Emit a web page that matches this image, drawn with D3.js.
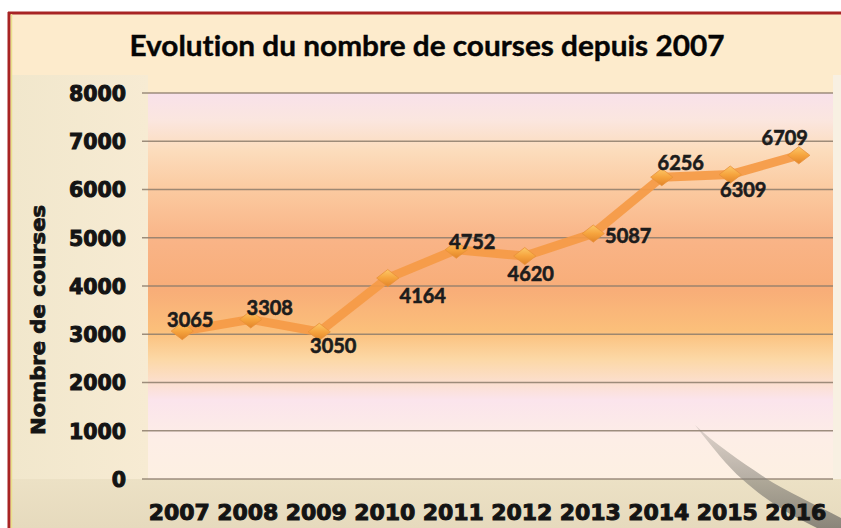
<!DOCTYPE html>
<html>
<head>
<meta charset="utf-8">
<script src="https://cdn.jsdelivr.net/npm/d3@7"></script>
<style>
  html, body { margin: 0; padding: 0; background: #fff; }
  svg { display: block; }
  text { font-variant-ligatures: none; }
</style>
</head>
<body>
<div id="chart"></div>
<script>
const years = ["2007", "2008", "2009", "2010", "2011", "2012", "2013", "2014", "2015", "2016"];
const courses = [3065, 3308, 3050, 4164, 4752, 4620, 5087, 6256, 6309, 6709];
const yTicks = [0, 1000, 2000, 3000, 4000, 5000, 6000, 7000, 8000];
const titleText = "Evolution du nombre de courses depuis 2007";
const yAxisTitle = "Nombre de courses";

const width = 841, height = 528;
const plot = { left: 148, right: 833, top: 93, bottom: 479 };

// where each value label sits relative to its point
const labelOffsets = [[8, -4], [19, -4], [14, 21], [35, 25], [16, -1], [6, 25], [35, 9], [19, -7], [13, 22], [-14, -10]];

const svg = d3.select("#chart").append("svg")
    .attr("width", width)
    .attr("height", height);

const defs = svg.append("defs");

function vGradient(id, stops) {
    const g = defs.append("linearGradient").attr("id", id)
        .attr("x1", 0).attr("y1", 0).attr("x2", 0).attr("y2", 1);
    stops.forEach(([o, c, a]) => g.append("stop").attr("offset", o).attr("stop-color", c).attr("stop-opacity", a == null ? 1 : a));
}

vGradient("plotBg", [
    [0, "#f8e1ea"], [0.07, "#fbe6df"], [0.15, "#fcdcbc"], [0.25, "#fbcaa0"],
    [0.38, "#f9b487"], [0.51, "#f8ad78"], [0.615, "#fbbf7a"], [0.69, "#fcd8a6"],
    [0.795, "#fbe4ec"], [0.9, "#fdeee6"], [1, "#fdf0e2"]
]);
vGradient("bottomBg", [[0, "#ece1c5"], [1, "#e6dabd"]]);
vGradient("marker", [[0, "#fcc868"], [0.5, "#f6a43e"], [1, "#e2852a"]]);
vGradient("swoosh", [[0, "#8a867e", 0.25], [0.5, "#8a867e", 0.6], [1, "#7a766e", 0.85]]);

const leftGrad = defs.append("linearGradient").attr("id", "leftBg")
    .attr("x1", 0).attr("y1", 0).attr("x2", 1).attr("y2", 0);
leftGrad.append("stop").attr("offset", 0).attr("stop-color", "#f1e7cc");
leftGrad.append("stop").attr("offset", 1).attr("stop-color", "#f7ebd3");

// backgrounds
svg.append("rect").attr("width", width).attr("height", height).attr("fill", "#fff");
svg.append("rect").attr("x", 10).attr("y", 14).attr("width", width - 10).attr("height", height - 14).attr("fill", "#fdebcc");
svg.append("rect").attr("x", 12).attr("y", 75).attr("width", plot.left - 12).attr("height", height - 75).attr("fill", "url(#leftBg)");
svg.append("rect").attr("x", 12).attr("y", plot.bottom).attr("width", width - 12).attr("height", height - plot.bottom).attr("fill", "url(#bottomBg)");
svg.append("rect").attr("x", plot.right).attr("y", 75).attr("width", width - plot.right).attr("height", plot.bottom - 75).attr("fill", "#f8f0e2");

// frame
svg.append("line").attr("x1", 8).attr("x2", width).attr("y1", 13).attr("y2", 13)
    .attr("stroke", "#a82424").attr("stroke-width", 3);
svg.append("line").attr("x1", 9).attr("x2", 9).attr("y1", 12).attr("y2", height)
    .attr("stroke", "#a82424").attr("stroke-width", 3);
svg.append("line").attr("x1", 11.5).attr("x2", 11.5).attr("y1", 14).attr("y2", height)
    .attr("stroke", "#e9e08a").attr("stroke-width", 1.5);

const x = d3.scaleBand().domain(years).range([plot.left, plot.right]);
const y = d3.scaleLinear().domain([0, 8000]).range([plot.bottom, plot.top]);
const cx = d => x(d) + x.bandwidth() / 2;

svg.append("rect")
    .attr("x", plot.left).attr("y", plot.top)
    .attr("width", plot.right - plot.left).attr("height", plot.bottom - plot.top)
    .attr("fill", "url(#plotBg)");

// grid
svg.append("g").selectAll("line").data(yTicks).join("line")
    .attr("x1", plot.left - 6).attr("x2", plot.right)
    .attr("y1", d => y(d)).attr("y2", d => y(d))
    .attr("stroke", "#8d7d6c").attr("stroke-width", 1.5).attr("opacity", 0.85);

// decorative swoosh
svg.append("path")
    .attr("d", "M695,425 C712,447 728,467 742,479 C765,500 790,515 817,528 L841,528 L841,518 C812,503 788,492 767,479 C742,462 716,445 695,425 Z")
    .attr("fill", "url(#swoosh)");

// y axis
const yAxis = svg.append("g")
    .attr("transform", `translate(${plot.left - 22},0)`)
    .call(d3.axisLeft(y).tickValues(yTicks).tickSize(0).tickPadding(0).tickFormat(d3.format("d")));
yAxis.select(".domain").remove();
yAxis.selectAll("text")
    .attr("font-family", "DejaVu Sans").attr("font-weight", "bold").attr("font-size", 20.5)
    .attr("fill", "#141414").attr("stroke", "#141414").attr("stroke-width", 1)
    .attr("dy", "0.36em");

// x axis
const xAxis = svg.append("g")
    .attr("transform", `translate(-3,${plot.bottom})`)
    .call(d3.axisBottom(x).tickSize(0).tickPadding(0));
xAxis.select(".domain").remove();
xAxis.selectAll("text")
    .attr("font-family", "DejaVu Sans").attr("font-weight", "bold").attr("font-size", 22)
    .attr("fill", "#141414").attr("stroke", "#141414").attr("stroke-width", 1)
    .attr("y", 41).attr("dy", 0);

// y title
svg.append("text")
    .attr("transform", "translate(45,320) rotate(-90)")
    .attr("text-anchor", "middle")
    .attr("font-family", "DejaVu Sans").attr("font-weight", "bold").attr("font-size", 19)
    .attr("textLength", 230).attr("lengthAdjust", "spacingAndGlyphs")
    .attr("fill", "#141414").attr("stroke", "#141414").attr("stroke-width", 0.8)
    .text(yAxisTitle);

// title
svg.append("text")
    .attr("x", 427).attr("y", 56)
    .attr("text-anchor", "middle")
    .attr("font-family", "Lato").attr("font-weight", "bold").attr("font-size", 29)
    .attr("textLength", 595).attr("lengthAdjust", "spacingAndGlyphs")
    .attr("fill", "#050505").attr("stroke", "#050505").attr("stroke-width", 0.4)
    .text(titleText);

// series
const pts = years.map((yr, i) => ({ yr, v: courses[i], off: labelOffsets[i] }));

svg.append("path")
    .datum(pts)
    .attr("fill", "none")
    .attr("stroke", "#f59a45")
    .attr("stroke-width", 9)
    .attr("stroke-linejoin", "round")
    .attr("opacity", 0.92)
    .attr("d", d3.line().x(d => cx(d.yr)).y(d => y(d.v)));

const diamond = d3.symbol().type(d3.symbolDiamond2).size(260);
svg.append("g").selectAll("path").data(pts).join("path")
    .attr("transform", d => `translate(${cx(d.yr)},${y(d.v)}) scale(1.1,0.85)`)
    .attr("d", diamond)
    .attr("fill", "url(#marker)")
    .attr("stroke", "#e8903a").attr("stroke-width", 0.8);

svg.append("g").selectAll("text").data(pts).join("text")
    .attr("x", d => cx(d.yr) + d.off[0])
    .attr("y", d => y(d.v) + d.off[1])
    .attr("text-anchor", "middle")
    .attr("font-family", "Lato").attr("font-weight", "bold").attr("font-size", 20)
    .attr("fill", "#1c1c1c").attr("stroke", "#1c1c1c").attr("stroke-width", 0.6)
    .text(d => d.v);
</script>
</body>
</html>
